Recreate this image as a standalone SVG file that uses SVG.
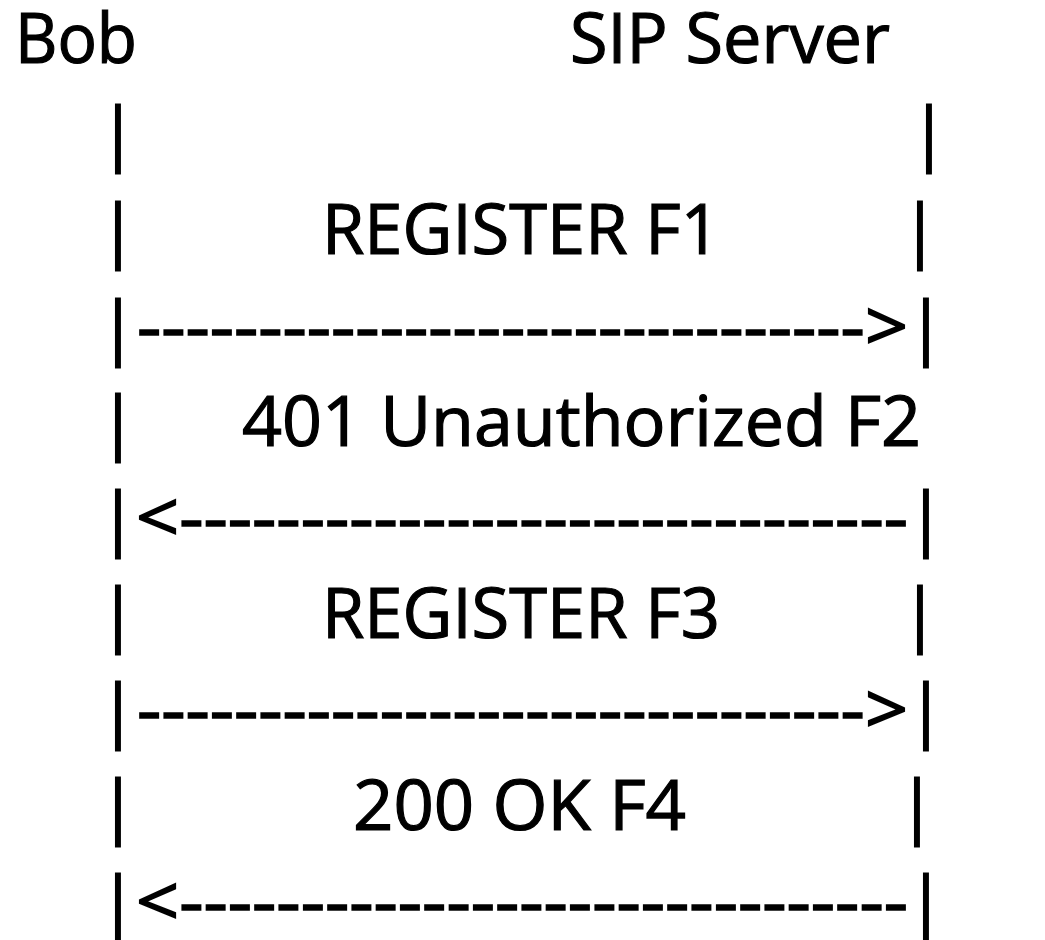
<svg xmlns="http://www.w3.org/2000/svg" width="1045" height="940" viewBox="0 0 1045 940">
<style>
text{font-family:"Open Sans","Noto Sans","Liberation Sans",sans-serif;font-size:70px;fill:#000;stroke:#000;stroke-width:1.2px}
.bar{text-anchor:middle}
.dash{stroke-width:1.6px}
</style>
<rect width="1045" height="940" fill="#fff"/>
<g id="bob"><text x="15" y="63" textLength="122" lengthAdjust="spacingAndGlyphs">Bob</text></g>
<g id="sip-server"><text x="570" y="63" textLength="320" lengthAdjust="spacingAndGlyphs">SIP Server</text></g>
<g id="lifelines">
<text class="bar" x="118" y="157">|</text><text class="bar" x="929" y="157">|</text>
<text class="bar" x="118" y="254">|</text><text class="bar" x="920" y="254">|</text>
<text class="bar" x="118" y="351">|</text><text class="bar" x="926" y="351">|</text>
<text class="bar" x="118" y="446">|</text>
<text class="bar" x="118" y="542">|</text><text class="bar" x="926" y="542">|</text>
<text class="bar" x="118" y="638">|</text><text class="bar" x="920" y="638">|</text>
<text class="bar" x="118" y="734">|</text><text class="bar" x="926" y="734">|</text>
<text class="bar" x="118" y="830">|</text><text class="bar" x="917" y="830">|</text>
<text class="bar" x="118" y="926">|</text><text class="bar" x="926" y="926">|</text>
</g>
<g id="connectors">
<text class="dash" x="137" y="351" textLength="771" lengthAdjust="spacingAndGlyphs">------------------------------&gt;</text>
<text class="dash" x="136" y="542" textLength="772" lengthAdjust="spacingAndGlyphs">&lt;------------------------------</text>
<text class="dash" x="137" y="734" textLength="771" lengthAdjust="spacingAndGlyphs">------------------------------&gt;</text>
<text class="dash" x="136" y="926" textLength="772" lengthAdjust="spacingAndGlyphs">&lt;------------------------------</text>
</g>
<g id="labels">
<text x="322" y="254" textLength="398" lengthAdjust="spacingAndGlyphs">REGISTER F1</text>
<text x="242" y="446" textLength="679" lengthAdjust="spacingAndGlyphs">401 Unauthorized F2</text>
<text x="322" y="638" textLength="398" lengthAdjust="spacingAndGlyphs">REGISTER F3</text>
<text x="353" y="830" textLength="333" lengthAdjust="spacingAndGlyphs">200 OK F4</text>
</g>
</svg>
